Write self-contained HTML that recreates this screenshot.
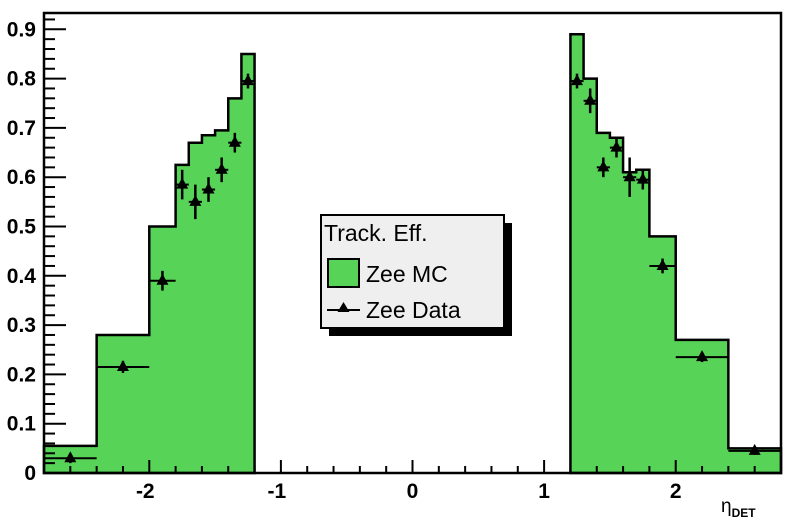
<!DOCTYPE html>
<html><head><meta charset="utf-8"><style>
body{margin:0;background:#fff;}
svg{display:block;font-family:"Liberation Sans",sans-serif;}
</style></head><body>
<svg id="chart" width="800" height="527">
<g id="plot"></g>
</svg>
<script>
const mcEdges=[-2.8,-2.4,-2.0,-1.8,-1.7,-1.6,-1.5,-1.4,-1.3,-1.2, 1.2,1.3,1.4,1.5,1.6,1.7,1.8,2.0,2.4,2.8];
const mcLeftValues=[0.055,0.28,0.50,0.625,0.67,0.685,0.695,0.76,0.85];
const mcRightValues=[0.89,0.80,0.69,0.68,0.61,0.615,0.48,0.27,0.05];
const dataX=[-2.6,-2.2,-1.9,-1.75,-1.65,-1.55,-1.45,-1.35,-1.25,1.25,1.35,1.45,1.55,1.65,1.75,1.9,2.2,2.6];
const dataXErr=[0.2,0.2,0.1,0.05,0.05,0.05,0.05,0.05,0.05,0.05,0.05,0.05,0.05,0.05,0.05,0.1,0.2,0.2];
const dataY=[0.03,0.215,0.39,0.585,0.55,0.575,0.615,0.67,0.795,0.795,0.755,0.62,0.66,0.60,0.595,0.42,0.235,0.045];
const dataYErr=[0.01,0.012,0.02,0.03,0.035,0.025,0.025,0.02,0.015,0.015,0.025,0.02,0.02,0.04,0.02,0.015,0.01,0.008];
const xTicks=[-2,-1,0,1,2];
const yTicks=[0,0.1,0.2,0.3,0.4,0.5,0.6,0.7,0.8,0.9];

const L=44,R=781,T=13,B=473;
const xMin=-2.8,xMax=2.8,yMin=0,yMax=(B-T)/493;
const X=v=>L+(v-xMin)/(xMax-xMin)*(R-L);
const Y=v=>B-(v-yMin)/(yMax-yMin)*(B-T);
const NS="http://www.w3.org/2000/svg";
const g=document.getElementById('plot');
function mk(t,a,p){const e=document.createElementNS(NS,t);for(const k in a)e.setAttribute(k,a[k]);(p||g).appendChild(e);return e;}

function hist(edges,vals,name){
  let d=`M${X(edges[0])},${Y(0)}`;
  vals.forEach((v,i)=>{d+=` L${X(edges[i])},${Y(v)} L${X(edges[i+1])},${Y(v)}`;});
  d+=` L${X(edges[vals.length])},${Y(0)} Z`;
  const p=mk('path',{d:d,fill:'#57d357',stroke:'#000','stroke-width':2.5});
  
  
}
hist(mcEdges.slice(0,10),mcLeftValues,'zee-mc-left');
hist(mcEdges.slice(10),mcRightValues,'zee-mc-right');

dataX.forEach((x,i)=>{
  const gg=mk('g',{});
  
  
  const cx=X(x),cy=Y(dataY[i]);
  mk('line',{x1:X(x-dataXErr[i]),x2:X(x+dataXErr[i]),y1:cy,y2:cy,stroke:'#000','stroke-width':2},gg);
  mk('line',{x1:cx,x2:cx,y1:Y(dataY[i]+dataYErr[i]),y2:Y(dataY[i]-dataYErr[i]),stroke:'#000','stroke-width':2.5},gg);
  mk('path',{d:`M${cx},${cy-7} L${cx+6},${cy+4} L${cx-6},${cy+4} Z`,fill:'#000'},gg);
});

const fr=mk('rect',{x:L,y:T,width:R-L,height:B-T,fill:'none',stroke:'#000','stroke-width':2.5});



for(let v=0;v<=0.93;v+=0.02){
  const major=Math.abs(v*10-Math.round(v*10))<1e-6;
  mk('line',{x1:L,x2:L+(major?22:11),y1:Y(v),y2:Y(v),stroke:'#000','stroke-width':2});
}
yTicks.forEach(v=>{
  const t=mk('text',{x:36,y:Y(v)+7,'text-anchor':'end','font-size':21,'font-weight':'bold'});
  t.textContent=v===0?'0':v.toFixed(1);
  
  
});
for(let i=-27;i<=27;i++){
  const v=i/10;const major=i%10===0;
  if(i%2===0||major) mk('line',{x1:X(v),x2:X(v),y1:B,y2:B-(major?13:7),stroke:'#000','stroke-width':2});
}
xTicks.forEach(v=>{
  const t=mk('text',{x:X(v)-(v<0?4:0),y:498,'text-anchor':'middle','font-size':21,'font-weight':'bold'});
  t.textContent=String(v);
  
  
});
const xt=mk('text',{x:721,y:512,'font-size':19});
xt.innerHTML='η<tspan font-size="12" font-weight="bold" dy="5">DET</tspan>';



const lg=mk('g',{});


mk('rect',{x:329,y:223,width:183,height:113,fill:'#000'},lg);
mk('rect',{x:321,y:215,width:183,height:113,fill:'#efefef',stroke:'#000','stroke-width':2},lg);
const lt=mk('text',{x:324,y:241,'font-size':23},lg);lt.textContent='Track. Eff.';


const sw=mk('rect',{x:328,y:259,width:31,height:28,fill:'#57d357',stroke:'#000','stroke-width':2},lg);


const l1=mk('text',{x:366,y:282,'font-size':23},lg);l1.textContent='Zee MC';


mk('line',{x1:327,x2:360,y1:310,y2:310,stroke:'#000','stroke-width':2},lg);
mk('path',{d:'M343.5,302 L349.5,312 L337.5,312 Z',fill:'#000'},lg);
const l2=mk('text',{x:366,y:318,'font-size':23},lg);l2.textContent='Zee Data';


</script>
</body></html>
